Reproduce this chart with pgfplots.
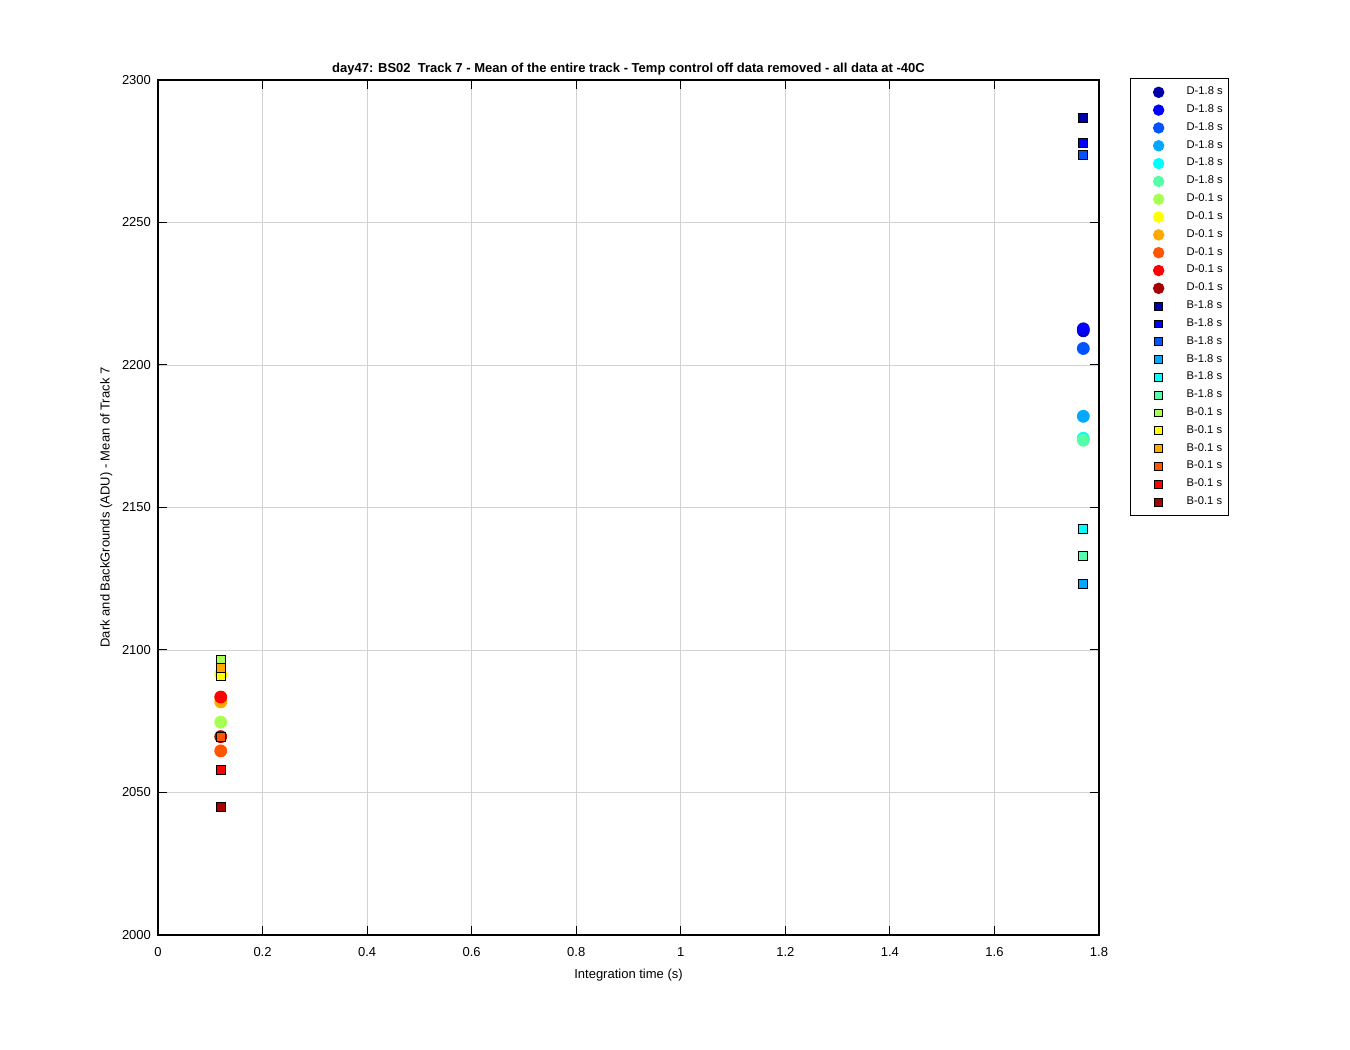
\documentclass[border=0pt]{standalone}
\usepackage{pgfplots}
\pgfplotsset{compat=1.18}
\usepackage{fontspec}
\setmainfont{Liberation Sans}
\definecolor{c1}{rgb}{0,0,0.66}
\definecolor{c2}{rgb}{0,0,1}
\definecolor{c3}{rgb}{0,0.33,1}
\definecolor{c4}{rgb}{0,0.66,1}
\definecolor{c5}{rgb}{0,1,1}
\definecolor{c6}{rgb}{0.33,1,0.66}
\definecolor{c7}{rgb}{0.66,1,0.33}
\definecolor{c8}{rgb}{1,1,0}
\definecolor{c9}{rgb}{1,0.66,0}
\definecolor{c10}{rgb}{1,0.33,0}
\definecolor{c11}{rgb}{1,0,0}
\definecolor{c12}{rgb}{0.66,0,0}
\pgfplotsset{
  dser/.style={only marks, mark=*, mark size=3pt, mark options={draw=#1, fill=#1}},
  bser/.style={only marks, mark=square*, mark size=2.3pt, mark options={draw=black, fill=#1, line width=0.5pt}},
}
\begin{document}
\begin{tikzpicture}
\useasboundingbox (-79pt,-57.5pt) rectangle (596pt,467.5pt);
\begin{axis}[
  scale only axis,
  width=470.5pt, height=427.5pt,
  xmin=0, xmax=1.8, ymin=2000, ymax=2300,
  xtick={0,0.2,...,1.8},
  ytick={2000,2050,...,2300},
  xticklabels={0,0.2,0.4,0.6,0.8,1,1.2,1.4,1.6,1.8},
  yticklabel style={/pgf/number format/.cd, fixed, 1000 sep={}},
  /pgf/number format/assume math mode=true,
  xticklabel style={yshift=-2.5pt},
  tick align=inside,
  major tick length=4.5pt,
  tick style={black, line width=0.5pt},
  axis line style={line width=0.6pt},
  grid=major,
  grid style={gray!35, line width=0.4pt},
  ticklabel style={font=\fontsize{6.5}{7}\selectfont},
  label style={font=\fontsize{6.5}{7}\selectfont},
  xlabel={Integration time (s)},
  ylabel={Dark and BackGrounds (ADU) - Mean of Track 7},
  xlabel style={yshift=0.5pt},
  ylabel style={yshift=-2pt},
  title={\bfseries day47: BS02\ \ Track 7 - Mean of the entire track - Temp control off data removed - all data at -40C},
  title style={font=\fontsize{6.5}{7}\selectfont, yshift=-7pt},
  legend style={at={(1.033,1.002)}, anchor=north west, font=\fontsize{5.6}{6}\selectfont,
    draw=black, line width=0.6pt, row sep=-0.5pt, inner xsep=1pt, inner ysep=2pt,
    /tikz/every even column/.append style={column sep=2pt}},
  legend cell align=left,
  legend image code/.code={\path[draw=none,fill=none] (0,0) -- (25pt,0); \draw[#1, every mark/.append style={scale=0.85}] plot coordinates {(13pt,0pt)};},
]
\addplot[dser=c1] coordinates {(1.77,2212.0)}; \addlegendentry{D-1.8 s}
\addplot[dser=c2] coordinates {(1.77,2212.7)}; \addlegendentry{D-1.8 s}
\addplot[dser=c3] coordinates {(1.77,2205.8)}; \addlegendentry{D-1.8 s}
\addplot[dser=c4] coordinates {(1.77,2182.0)}; \addlegendentry{D-1.8 s}
\addplot[dser=c5] coordinates {(1.77,2174.3)}; \addlegendentry{D-1.8 s}
\addplot[dser=c6] coordinates {(1.77,2173.6)}; \addlegendentry{D-1.8 s}
\addplot[dser=c7] coordinates {(0.12,2074.7)}; \addlegendentry{D-0.1 s}
\addplot[dser=c8] coordinates {(0.12,2091.5)}; \addlegendentry{D-0.1 s}
\addplot[dser=c9] coordinates {(0.12,2081.8)}; \addlegendentry{D-0.1 s}
\addplot[dser=c10] coordinates {(0.12,2064.6)}; \addlegendentry{D-0.1 s}
\addplot[dser=c11] coordinates {(0.12,2083.5)}; \addlegendentry{D-0.1 s}
\addplot[dser=c12] coordinates {(0.12,2069.6)}; \addlegendentry{D-0.1 s}
\addplot[bser=c1] coordinates {(1.77,2286.6)}; \addlegendentry{B-1.8 s}
\addplot[bser=c2] coordinates {(1.77,2277.8)}; \addlegendentry{B-1.8 s}
\addplot[bser=c3] coordinates {(1.77,2273.6)}; \addlegendentry{B-1.8 s}
\addplot[bser=c4] coordinates {(1.77,2123.2)}; \addlegendentry{B-1.8 s}
\addplot[bser=c5] coordinates {(1.77,2142.4)}; \addlegendentry{B-1.8 s}
\addplot[bser=c6] coordinates {(1.77,2133.0)}; \addlegendentry{B-1.8 s}
\addplot[bser=c7] coordinates {(0.12,2096.6)}; \addlegendentry{B-0.1 s}
\addplot[bser=c8] coordinates {(0.12,2090.8)}; \addlegendentry{B-0.1 s}
\addplot[bser=c9] coordinates {(0.12,2093.8)}; \addlegendentry{B-0.1 s}
\addplot[bser=c10] coordinates {(0.12,2069.5)}; \addlegendentry{B-0.1 s}
\addplot[bser=c11] coordinates {(0.12,2057.9)}; \addlegendentry{B-0.1 s}
\addplot[bser=c12] coordinates {(0.12,2044.9)}; \addlegendentry{B-0.1 s}
\end{axis}
\end{tikzpicture}
\end{document}
